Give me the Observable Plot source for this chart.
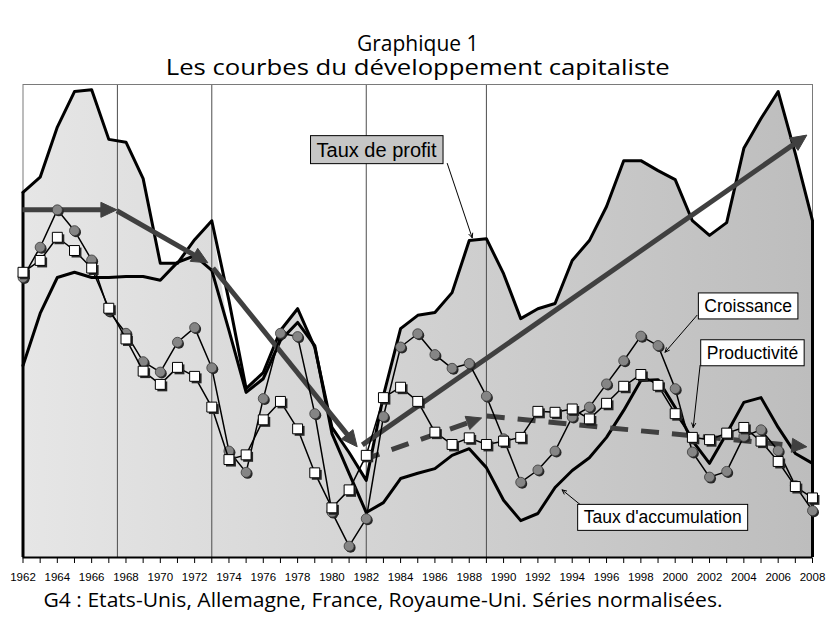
<!DOCTYPE html>
<html>
<head>
<meta charset="utf-8">
<script src="https://cdn.jsdelivr.net/npm/d3@7"></script>
<script src="https://cdn.jsdelivr.net/npm/@observablehq/plot@0.6"></script>
<style>
  html, body { margin: 0; padding: 0; background: #ffffff; }
  #chart { width: 826px; height: 622px; }
</style>
</head>
<body>
<div id="chart"></div>
<script>
// ---------- data (normalised series) ----------
const years = [1962,1963,1964,1965,1966,1967,1968,1969,1970,1971,1972,1973,1974,1975,1976,1977,1978,1979,1980,1981,1982,1983,1984,1985,1986,1987,1988,1989,1990,1991,1992,1993,1994,1995,1996,1997,1998,1999,2000,2001,2002,2003,2004,2005,2006,2007,2008];

const profit = [77.2,80.4,91.0,98.5,98.9,88.4,87.8,80.1,62.2,62.2,67.2,71.2,54.3,35.7,39.1,48.0,52.6,44.4,27.5,22.2,16.3,34.2,48.4,51.2,51.8,56.0,67.0,67.4,60.0,50.5,52.6,53.7,62.8,67.0,74.2,83.9,83.9,81.8,79.9,71.2,68.1,70.8,86.5,92.8,98.5,85.4,71.2];

// outline of the shaded profit area (differs from the line in 1974)
const profitArea = [77.2,80.4,91.0,98.5,98.9,88.4,87.8,80.1,62.2,62.2,67.2,71.2,48.0,35.7,39.1,48.0,52.6,44.4,27.5,22.2,16.3,34.2,48.4,51.2,51.8,56.0,67.0,67.4,60.0,50.5,52.6,53.7,62.8,67.0,74.2,83.9,83.9,81.8,79.9,71.2,68.1,70.8,86.5,92.8,98.5,85.4,71.2];

const accumulation = [40.6,51.6,59.2,60.3,59.2,59.2,59.4,59.4,58.6,62.4,63.8,60.7,48.0,34.9,37.8,45.9,49.7,44.8,26.2,17.8,9.5,11.6,16.7,17.8,18.8,21.6,23.0,19.0,12.1,7.8,9.3,14.8,18.4,21.1,25.4,31.1,37.4,37.6,31.7,24.7,19.9,26.2,32.8,33.8,27.5,22.0,19.9];

const growth = [59.2,65.6,73.5,69.1,62.9,52.1,47.4,41.4,39.2,45.5,48.6,40.1,22.5,18.0,33.6,47.4,46.7,30.4,9.6,2.4,8.2,29.8,44.5,47.3,42.9,40.0,41.0,34.1,25.1,15.9,18.5,22.5,29.7,31.8,36.7,41.6,46.8,44.8,35.7,22.3,17.0,18.2,25.6,27.0,22.6,15.2,9.9];

const productivity = [60.3,62.8,67.7,64.9,61.2,52.7,46.2,39.4,36.6,40.2,38.3,31.8,20.7,21.7,29.1,33.0,27.2,17.9,10.5,14.3,21.6,33.8,36.0,33.0,26.5,23.9,25.3,23.9,24.6,25.4,30.9,30.7,31.4,29.3,32.6,36.2,38.7,36.4,30.4,25.4,24.9,26.3,27.5,24.6,20.3,15.0,12.6];

// period separators
const periodBreaks = [1967.5, 1973, 1982, 1989];

// trend arrows (start year, start value, end year, end value)
const solidTrend = [
  {x1: 1962,   y1: 73.4, x2: 1967.5, y2: 73.4},
  {x1: 1967.5, y1: 73.2, x2: 1972.8, y2: 62.2},
  {x1: 1973.1, y1: 61.1, x2: 1981.5, y2: 23.3},
  {x1: 1981.8, y1: 23.7, x2: 2007.7, y2: 89.2}
];
const dashedTrend = [
  {x1: 1981.8, y1: 20.5, x2: 1988.75, y2: 29.4},
  {x1: 1989.05, y1: 29.8, x2: 2007.7, y2: 23.3}
];

// boxed series labels and their pointers
const seriesLabels = [
  {text: "Taux de profit",      x: 1982.6, y: 86.1, box: "#c6c6c6", size: 20},
  {text: "Croissance",          x: 2004.25, y: 53.1, box: "#ffffff", size: 17.5},
  {text: "Productivité",        x: 2004.5, y: 43.2, box: "#ffffff", size: 17.5},
  {text: "Taux d'accumulation", x: 1999.27, y: 8.4, box: "#ffffff", size: 17.5}
];
const pointers = [
  {x1: 1986.72, y1: 83.3, x2: 1988.17, y2: 67.6},
  {x1: 2001.27, y1: 51.2, x2: 1999.41, y2: 43.4},
  {x1: 2001.45, y1: 40.6, x2: 2001.05, y2: 27.5},
  {x1: 1994.46, y1: 11.2, x2: 1993.41, y2: 14.3}
];

const titleLines = ["Graphique 1", "Les courbes du développement capitaliste"];
const caption = "G4 : Etats-Unis, Allemagne, France, Royaume-Uni. Séries normalisées.";

// ---------- table ----------
const table = years.map((year, i) => ({
  year,
  profit: profit[i],
  area: profitArea[i],
  acc: accumulation[i],
  growth: growth[i],
  prod: productivity[i]
}));
const edges = [table[0], table[table.length - 1]];

const defsMark = () => {
  const defs = d3.create("svg:defs");
  const g = defs.append("linearGradient").attr("id", "bgGrad")
    .attr("x1", 0).attr("x2", 1).attr("y1", 0).attr("y2", 0);
  g.append("stop").attr("offset", "0").attr("stop-color", "#e6e6e6");
  g.append("stop").attr("offset", "1").attr("stop-color", "#bdbdbd");
  return defs.node();
};

// thick trend arrows with filled triangular heads, positioned through the plot scales
const trendMark = (segs, {color, width, dash, headLen, headHalf}) => (index, scales) => {
  const g = d3.create("svg:g");
  for (const d of segs) {
    const x1 = scales.x(d.x1), y1 = scales.y(d.y1), x2 = scales.x(d.x2), y2 = scales.y(d.y2);
    const a = Math.atan2(y2 - y1, x2 - x1);
    const bx = x2 - headLen * Math.cos(a), by = y2 - headLen * Math.sin(a);
    const px = -Math.sin(a) * headHalf, py = Math.cos(a) * headHalf;
    const body = g.append("line")
      .attr("x1", x1).attr("y1", y1).attr("x2", bx + Math.cos(a) * 2).attr("y2", by + Math.sin(a) * 2)
      .attr("stroke", color).attr("stroke-width", width).attr("stroke-linecap", "butt");
    if (dash) body.attr("stroke-dasharray", dash);
    g.append("path")
      .attr("d", `M${x2},${y2}L${bx + px},${by + py}L${bx - px},${by - py}Z`)
      .attr("fill", color).attr("stroke", color).attr("stroke-width", 1).attr("stroke-linejoin", "miter");
  }
  return g.node();
};

const trendColor = "#404040";
const titleFont = "'Open Sans', Lato, sans-serif";

const chart = Plot.plot({
  width: 826,
  height: 622,
  marginTop: 84,
  marginBottom: 65,
  marginLeft: 22.5,
  marginRight: 14,
  style: {fontFamily: "'Liberation Sans', Arial, sans-serif", fontSize: "11.5px", color: "#000", background: "#fff"},
  x: {
    domain: [1962, 2008],
    ticks: years,
    tickFormat: d => (d % 2 === 0 ? String(d) : ""),
    tickSize: 6,
    tickPadding: 9,
    label: null
  },
  y: {domain: [0, 100], axis: null},
  marks: [
    defsMark,
    Plot.areaY(table, {x: "year", y: "area", fill: "url(#bgGrad)", curve: "linear"}),
    Plot.ruleX(periodBreaks, {stroke: "#4d4d4d", strokeWidth: 1}),
    Plot.frame({stroke: "#7a7a7a", strokeWidth: 1}),
    Plot.ruleX(edges, {x: "year", y1: 0, y2: "profit", stroke: "#000", strokeWidth: 3}),
    Plot.lineY(table, {x: "year", y: "acc", stroke: "#000", strokeWidth: 3}),
    Plot.lineY(table, {x: "year", y: "profit", stroke: "#000", strokeWidth: 3}),
    Plot.ruleY([0], {stroke: "#000", strokeWidth: 2}),

    // trend arrows
    trendMark(solidTrend, {color: trendColor, width: 5, dash: null, headLen: 16, headHalf: 7.5}),
    trendMark(dashedTrend, {color: trendColor, width: 5, dash: "18,13", headLen: 15, headHalf: 7}),

    // growth: grey circles
    Plot.lineY(table, {x: "year", y: "growth", stroke: "#000", strokeWidth: 1.5}),
    Plot.dot(table, {x: "year", y: "growth", r: 5, fill: "#262626", stroke: "none", dx: 1.5, dy: 1.5}),
    Plot.dot(table, {x: "year", y: "growth", r: 5, fill: "#858585", stroke: "#3a3a3a", strokeWidth: 0.8}),

    // productivity: white squares
    Plot.lineY(table, {x: "year", y: "prod", stroke: "#000", strokeWidth: 1.5}),
    Plot.dot(table, {x: "year", y: "prod", symbol: "square", r: 5.6, fill: "#262626", stroke: "none", dx: 2, dy: 2}),
    Plot.dot(table, {x: "year", y: "prod", symbol: "square", r: 5.6, fill: "#ffffff", stroke: "#000", strokeWidth: 1}),

    // labels and pointers
    Plot.arrow(pointers, {x1: "x1", y1: "y1", x2: "x2", y2: "y2", stroke: "#000", strokeWidth: 1, headLength: 7, headAngle: 50}),
    Plot.text(seriesLabels, {x: "x", y: "y", text: "text", fontSize: d => d.size, fill: "#000",
      fontFamily: "'Liberation Sans', Arial, sans-serif", textAnchor: "middle", lineAnchor: "middle"}),

    // title and caption
    Plot.text([titleLines[0]], {text: d => d, frameAnchor: "top", lineAnchor: "middle", dy: -40, fontSize: 21, fontFamily: titleFont, fill: "#000"}),
    Plot.text([titleLines[1]], {text: d => d, frameAnchor: "top", lineAnchor: "middle", dy: -17, fontSize: 22, fontFamily: titleFont, fill: "#000"}),
    Plot.text([caption], {text: d => d, frameAnchor: "bottom-left", lineAnchor: "middle", textAnchor: "start", dx: 20.5, dy: 43, fontSize: 19.5, fontFamily: titleFont, fill: "#000"})
  ]
});

document.getElementById("chart").append(chart);

// draw the boxes behind the series labels; fit title/caption to the reference widths
const boxFor = new Map(seriesLabels.map(d => [d.text, d.box]));
const fitWidth = new Map([[titleLines[1], 504], [caption, 679]]);
d3.select(chart).selectAll("text").each(function () {
  const t = this.textContent;
  if (fitWidth.has(t)) {
    this.setAttribute("textLength", fitWidth.get(t));
    this.setAttribute("lengthAdjust", "spacingAndGlyphs");
    return;
  }
  if (!boxFor.has(t)) return;
  const b = this.getBBox();
  const padX = 6, padY = 3;
  const r = document.createElementNS("http://www.w3.org/2000/svg", "rect");
  r.setAttribute("x", b.x - padX);
  r.setAttribute("y", b.y - padY);
  r.setAttribute("width", b.width + 2 * padX);
  r.setAttribute("height", b.height + 2 * padY);
  r.setAttribute("fill", boxFor.get(t));
  r.setAttribute("stroke", "#000");
  r.setAttribute("stroke-width", "1");
  const tr = this.getAttribute("transform");
  if (tr) r.setAttribute("transform", tr);
  this.parentNode.insertBefore(r, this);
});
</script>
</body>
</html>
